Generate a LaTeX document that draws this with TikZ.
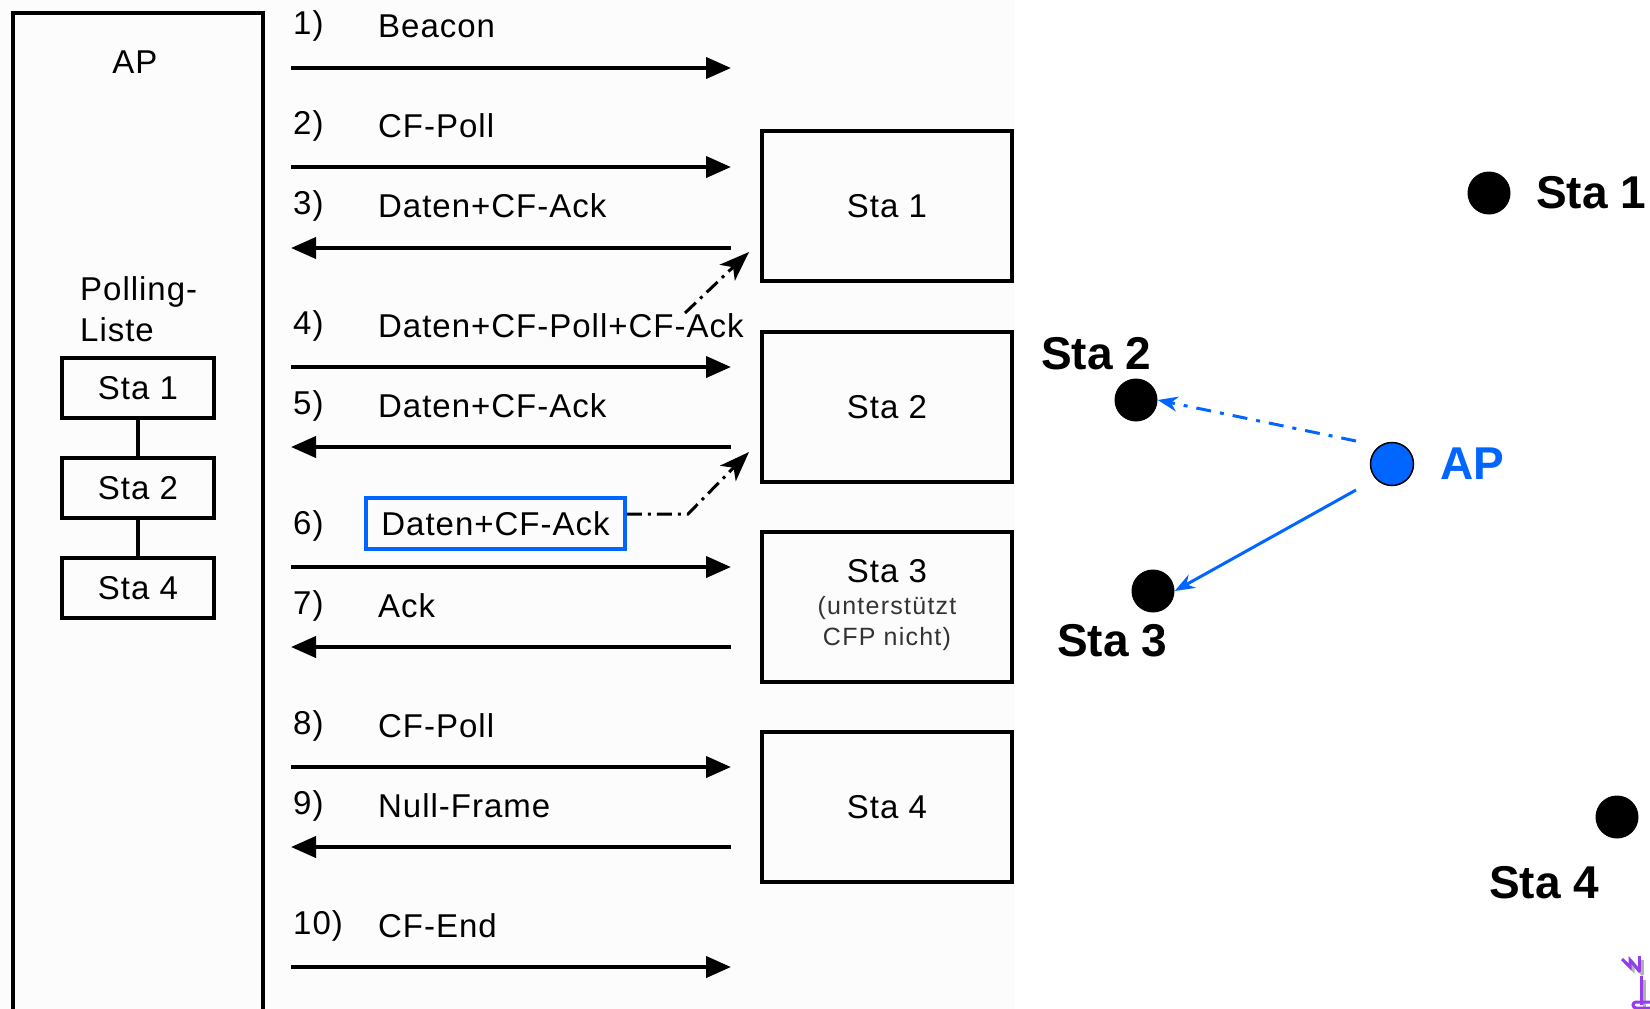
\documentclass[tikz,border=0pt]{standalone}
\usepackage{fontspec}
\setmainfont{Liberation Sans}
\newfontfamily\bmfont[LetterSpace=3]{Liberation Sans}
\newfontfamily\subfont[LetterSpace=5]{Liberation Sans}
\usetikzlibrary{arrows.meta}
\definecolor{apblue}{RGB}{0,102,255}
\definecolor{iconpurple}{RGB}{150,60,240}
\definecolor{bgleft}{RGB}{252,252,252}
\tikzset{
  msg/.style={line width=4pt,-{Triangle[length=25pt,width=21pt]}},
  lbl/.style={anchor=west,inner sep=0pt,font=\bmfont\fontsize{33}{38}\selectfont},
  stabox/.style={draw,line width=3.5pt,minimum width=250pt,minimum height=150pt,inner sep=0pt},
  plbox/.style={draw,line width=3.5pt,minimum width=152pt,minimum height=60pt,inner sep=0pt,font=\bmfont\fontsize{33}{38}\selectfont},
  boxtxt/.style={inner sep=0pt,font=\bmfont\fontsize{33}{38}\selectfont},
  subtxt/.style={inner sep=0pt,text=black!80,font=\subfont\fontsize{25}{30}\selectfont},
  dotdash/.style={line width=3pt,dash pattern=on 15pt off 6pt on 3pt off 6pt,-{Stealth[length=30pt,width=22pt,inset=8pt]}},
  bigl/.style={inner sep=0pt,font=\bfseries\fontsize{46}{50}\selectfont},
  stadot/.style={circle,fill=black,minimum size=43pt,inner sep=0pt},
  apdot/.style={circle,fill=apblue,draw=black,line width=1.5pt,minimum size=43pt,inner sep=0pt},
  blarrow/.style={apblue,line width=3pt,-{Stealth[length=20pt,width=15pt]}}
}
\begin{document}
\begin{tikzpicture}[x=1pt,y=-1pt]
\useasboundingbox (0,0) rectangle (1650,1009);
\fill[white] (0,0) rectangle (1650,1009);
\fill[bgleft] (0,0) rectangle (1015,1009);

% AP box
\draw[line width=4pt] (13,1015) -- (13,13) -- (263,13) -- (263,1015);
\node[boxtxt] (aptxt) at (135,62) {AP};
\node[boxtxt,anchor=west] (pl1) at (80,292) {Polling-};
\node[boxtxt,anchor=west] (pl2) at (80,330) {Liste};
\node[plbox] (p1) at (138,388) {Sta 1};
\node[plbox] (p2) at (138,488) {Sta 2};
\node[plbox] (p4) at (138,588) {Sta 4};
\draw[line width=3.5pt] (p1.south) -- (p2.north);
\draw[line width=3.5pt] (p2.south) -- (p4.north);

% station boxes
\node[stabox] (s1) at (887,206) {};
\node[boxtxt] (s1t) at (s1.center) {Sta 1};
\node[stabox] (s2) at (887,407) {};
\node[boxtxt] (s2t) at (s2.center) {Sta 2};
\node[stabox] (s3) at (887,607) {};
\node[boxtxt] (s3t) at (887,571) {Sta 3};
\node[subtxt] (s3a) at (887,608) {(unterstützt};
\node[subtxt] (s3b) at (887,639) {CFP nicht)};
\node[stabox] (s4) at (887,807) {};
\node[boxtxt] (s4t) at (s4.center) {Sta 4};

% message arrows
\foreach \i/\y in {1/68,2/167,3/248,4/367,5/447,6/567,7/647,8/767,9/847,10/967}{
  \coordinate (a\i) at (291,\y);
  \coordinate (b\i) at (731,\y);
}
\draw[msg] (a1) -- (b1);
\draw[msg] (a2) -- (b2);
\draw[msg] (b3) -- (a3);
\draw[msg] (a4) -- (b4);
\draw[msg] (b5) -- (a5);
\draw[msg] (a6) -- (b6);
\draw[msg] (b7) -- (a7);
\draw[msg] (a8) -- (b8);
\draw[msg] (b9) -- (a9);
\draw[msg] (a10) -- (b10);

% labels
\node[lbl] (n1) at (293,26) {1)};   \node[lbl] (t1) at (378,26) {Beacon};
\node[lbl] (n2) at (293,126) {2)};  \node[lbl] (t2) at (378,126) {CF-Poll};
\node[lbl] (n3) at (293,206) {3)};  \node[lbl] (t3) at (378,206) {Daten+CF-Ack};
\node[lbl] (n4) at (293,326) {4)};  \node[lbl] (t4) at (378,326) {Daten+CF-Poll+CF-Ack};
\node[lbl] (n5) at (293,406) {5)};  \node[lbl] (t5) at (378,406) {Daten+CF-Ack};
\node[lbl] (n6) at (293,526) {6)};
\node[lbl,draw=apblue,line width=3.5pt,inner xsep=10pt,inner ysep=9pt,minimum width=259pt,minimum height=51pt,anchor=center] (t6) at (495.5,523.5) {Daten+CF-Ack};
\node[lbl] (n7) at (293,606) {7)};  \node[lbl] (t7) at (378,606) {Ack};
\node[lbl] (n8) at (293,726) {8)};  \node[lbl] (t8) at (378,726) {CF-Poll};
\node[lbl] (n9) at (293,806) {9)};  \node[lbl] (t9) at (378,806) {Null-Frame};
\node[lbl] (n10) at (293,926) {10)}; \node[lbl] (t10) at (378,926) {CF-End};

% dash-dot arrows
\coordinate (d1s) at (685,313);
\coordinate (d1e) at (749,252);
\draw[dotdash] (d1s) -- (d1e);
\coordinate (d2m) at (688,514);
\coordinate (d2e) at (749,452);
\draw[dotdash] (t6.east |- d2m) -- (d2m) -- (d2e);

% right scene
\node[stadot] (r1) at (1489,193) {};
\node[bigl,anchor=west] (r1l) at (1536,193) {Sta 1};
\node[stadot] (r2) at (1136,400) {};
\node[bigl] (r2l) at (1096,354) {Sta 2};
\node[apdot] (rap) at (1392,464) {};
\node[bigl,anchor=west,text=apblue] (rapl) at (1440,464) {AP};
\node[stadot] (r3) at (1153,591) {};
\node[bigl] (r3l) at (1112,641) {Sta 3};
\node[stadot] (r4) at (1617,817) {};
\node[bigl] (r4l) at (1544,883) {Sta 4};
\coordinate (ap1) at (1356,441);
\coordinate (ap2) at (1356,490);
\draw[blarrow,dash pattern=on 15pt off 9pt on 4pt off 9pt] (ap1) -- (r2.east);
\draw[blarrow] (ap2) -- (r3.east);

% partial icon at bottom right
\draw[black!30,line width=3pt] (1625,962) -- (1633,970) -- (1633,963) -- (1643,975);
\draw[black!30,line width=3pt] (1642,960) -- (1642,975);
\draw[black!30,line width=3pt] (1644,980) -- (1644,1009);
\draw[iconpurple,line width=3pt] (1622,959) -- (1630,967) -- (1630,960) -- (1640,972);
\draw[iconpurple,line width=3pt] (1639,956) -- (1639,971);
\draw[iconpurple,line width=3pt] (1641,976) -- (1641,1005);
\draw[iconpurple,line width=3pt] (1650,1002) -- (1636,1002) arc (90:270:3pt) -- (1650,1008);
\end{tikzpicture}
\end{document}
